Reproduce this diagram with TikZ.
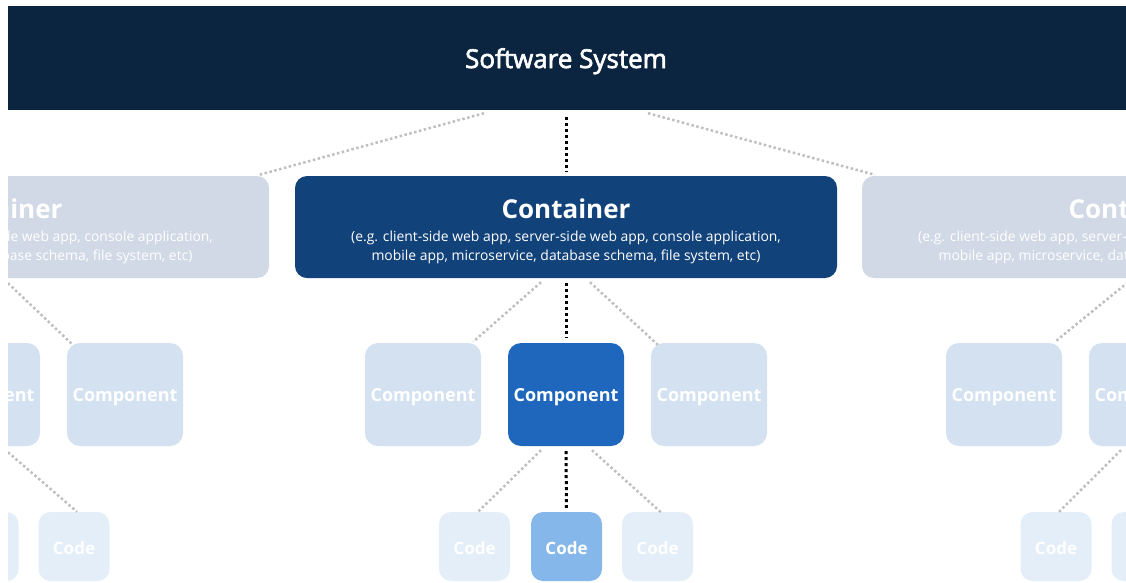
\documentclass[tikz,border=0pt]{standalone}
\usepackage{fontspec}
\setmainfont{Open Sans}
\newfontfamily\sysfont{Open Sans}[FakeBold=2.5]
\usetikzlibrary{calc}
\definecolor{sysnavy}{HTML}{0B2540}
\definecolor{contblue}{HTML}{12427A}
\definecolor{contfade}{HTML}{D0D9E5}
\definecolor{compblue}{HTML}{1E67BC}
\definecolor{compfade}{HTML}{D3E1F1}
\definecolor{codeblue}{HTML}{85B7EA}
\definecolor{codefade}{HTML}{E4EEF9}
\definecolor{dotgray}{HTML}{BFBFBF}
\newcommand{\contsub}{(e.g. client-side web app, server-side web app, console application,\\mobile app, microservice, database schema, file system, etc)}

\begin{document}
\begin{tikzpicture}[x=1pt, y=-1pt,
    box/.style={rounded corners=12pt, inner sep=0pt, text=white, align=center},
    container/.style={box, minimum width=542pt, minimum height=102pt},
    component/.style={box, rounded corners=13pt, minimum width=116pt, minimum height=103pt},
    code/.style={box, minimum width=71pt, minimum height=69pt},
    boxlabel/.style={anchor=base, text=white, inner sep=0pt, font=\bfseries\fontsize{18}{21}\selectfont},
    conttitle/.style={anchor=base, text=white, inner sep=0pt, font=\bfseries\fontsize{26}{30}\selectfont},
    contnote/.style={text=white, inner sep=0pt, align=center, font=\fontsize{13.9}{19}\selectfont},
    blackdots/.style={black, line width=3pt, dash pattern=on 3pt off 3pt},
    graydots/.style={dotgray, line width=2.5pt, dash pattern=on 2.5pt off 2.5pt}]
    \useasboundingbox (0,0) rectangle (1126,582);
    \clip (8,0) rectangle (1126,582);

    % software system
    \node[fill=sysnavy, inner sep=0pt, minimum width=1132pt, minimum height=104pt] (sys) at (566,58) {};
    \node[anchor=base, text=white, inner sep=0pt, font=\sysfont\fontsize{26}{30}\selectfont] (syslabel) at (566,68) {Software System};

    % containers
    \node[container, fill=contfade] (cont1) at (-2,227) {};
    \node[container, fill=contblue] (cont2) at (566,227) {};
    \node[container, fill=contfade] (cont3) at (1133,227) {};
    \node[conttitle] (cont1t) at (-2,218) {Container};
    \node[conttitle] (cont2t) at (566,218) {Container};
    \node[conttitle] (cont3t) at (1133,218) {Container};
    \node[contnote] (cont1n) at (-2,247) {\contsub};
    \node[contnote] (cont2n) at (566,247) {\contsub};
    \node[contnote] (cont3n) at (1133,247) {\contsub};

    % components
    \node[component, fill=compfade] (comp1) at (-18,394.5) {};
    \node[component, fill=compfade] (comp2) at (125,394.5) {};
    \node[component, fill=compfade] (comp4) at (423,394.5) {};
    \node[component, fill=compblue] (comp5) at (566,394.5) {};
    \node[component, fill=compfade] (comp6) at (709,394.5) {};
    \node[component, fill=compfade] (comp7) at (1004,394.5) {};
    \node[component, fill=compfade] (comp8) at (1147,394.5) {};
    \node[boxlabel] (comp1t) at (-18,401) {Component};
    \node[boxlabel] (comp2t) at (125,401) {Component};
    \node[boxlabel] (comp4t) at (423,401) {Component};
    \node[boxlabel] (comp5t) at (566,401) {Component};
    \node[boxlabel] (comp6t) at (709,401) {Component};
    \node[boxlabel] (comp7t) at (1004,401) {Component};
    \node[boxlabel] (comp8t) at (1147,401) {Component};

    % code
    \node[code, fill=codefade] (code1) at (-17,546.5) {};
    \node[code, fill=codefade] (code2) at (74,546.5) {};
    \node[code, fill=codefade] (code4) at (474.5,546.5) {};
    \node[code, fill=codeblue] (code5) at (566.5,546.5) {};
    \node[code, fill=codefade] (code6) at (657.5,546.5) {};
    \node[code, fill=codefade] (code7) at (1056,546.5) {};
    \node[code, fill=codefade] (code8) at (1147,546.5) {};
    \node[boxlabel, font=\bfseries\fontsize{17}{20}\selectfont] (code1t) at (-17,554) {Code};
    \node[boxlabel, font=\bfseries\fontsize{17}{20}\selectfont] (code2t) at (74,554) {Code};
    \node[boxlabel, font=\bfseries\fontsize{17}{20}\selectfont] (code4t) at (474.5,554) {Code};
    \node[boxlabel, font=\bfseries\fontsize{17}{20}\selectfont] (code5t) at (566.5,554) {Code};
    \node[boxlabel, font=\bfseries\fontsize{17}{20}\selectfont] (code6t) at (657.5,554) {Code};
    \node[boxlabel, font=\bfseries\fontsize{17}{20}\selectfont] (code7t) at (1056,554) {Code};
    \node[boxlabel, font=\bfseries\fontsize{17}{20}\selectfont] (code8t) at (1147,554) {Code};

    % system to containers
    \draw[graydots] ($(sys.south)+(-82,3)$) -- ($(cont1.north east)+(-10,-1)$);
    \draw[blackdots, shorten <=7pt, shorten >=4pt] (sys.south) -- (cont2.north);
    \draw[graydots] ($(sys.south)+(82,3)$) -- ($(cont3.north west)+(13,-1)$);

    % containers to components
    \draw[graydots] ($(cont1.south)+(10,5)$) -- ($(comp2.north west)+(6,2)$);
    \draw[graydots] ($(cont2.south)+(-25,4)$) -- ($(comp4.north east)+(-8,-1)$);
    \draw[blackdots, shorten <=5pt, shorten >=5pt] (cont2.south) -- (comp5.north);
    \draw[graydots] ($(cont2.south)+(24,4)$) -- ($(comp6.north west)+(7,2)$);
    \draw[graydots] ($(cont3.south)+(-5,4)$) -- ($(comp7.north east)+(-6,-2)$);

    % components to code
    \draw[graydots] ($(comp1.south)+(26,6)$) -- ($(code2.north)+(3,0)$);
    \draw[graydots] ($(comp5.south)+(-25,4)$) -- ($(code4.north)+(3.5,0)$);
    \draw[blackdots, shorten <=5pt, shorten >=4pt] (comp5.south) -- (code5.north);
    \draw[graydots] ($(comp5.south)+(26,4)$) -- ($(code6.north)+(4,1)$);
    \draw[graydots] ($(comp8.south)+(-26,4)$) -- ($(code7.north)+(3,0)$);
\end{tikzpicture}
\end{document}
